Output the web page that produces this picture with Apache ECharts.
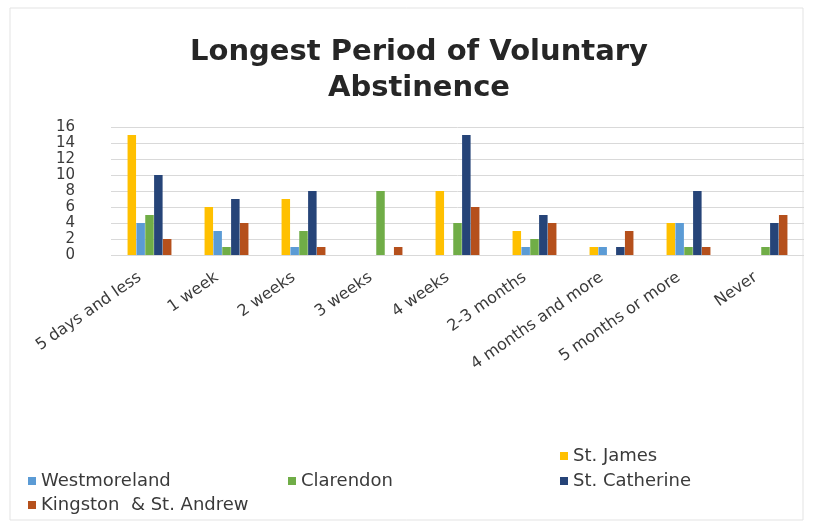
<!DOCTYPE html>
<html>
<head>
<meta charset="utf-8">
<script src="https://cdn.jsdelivr.net/npm/echarts@6/dist/echarts.min.js"></script>
<style>
  html, body { margin: 0; padding: 0; background: #ffffff; }
  #chart { width: 814px; height: 526px; }
</style>
</head>
<body>
<div id="chart"></div>
<script>
// categories on the x axis
var periods = ["5 days and less", "1 week", "2 weeks", "3 weeks", "4 weeks",
  "2-3 months", "4 months and more", "5 months or more", "Never"];

// one array per parish
var stJames      = [15, 6, 7, 0, 8, 3, 1, 4, 0];
var westmoreland = [4, 3, 1, 0, 0, 1, 1, 4, 0];
var clarendon    = [5, 1, 3, 8, 4, 2, 0, 1, 1];
var stCatherine  = [10, 7, 8, 0, 15, 5, 1, 8, 4];
var kingston     = [2, 4, 1, 1, 6, 4, 3, 1, 5];

var seriesNames = ["St. James", "Westmoreland", "Clarendon", "St. Catherine", "Kingston  & St. Andrew"];
var seriesData = [stJames, westmoreland, clarendon, stCatherine, kingston];
var colors = ["#FFC000", "#5B9BD5", "#70AD47", "#264478", "#B5501C"];

var yTicks = [0, 2, 4, 6, 8, 10, 12, 14, 16];

var chart = echarts.init(document.getElementById("chart"));

// the legend is laid out like the original: one entry per spot
var legendSpots = [
  {left: 555, top: 442},
  {left: 23, top: 467},
  {left: 283, top: 467},
  {left: 555, top: 467},
  {left: 23, top: 491}
];
var legends = seriesNames.map(function (name, i) {
  return {
    data: [name],
    left: legendSpots[i].left,
    top: legendSpots[i].top,
    icon: "rect",
    itemWidth: 8,
    itemHeight: 8,
    itemGap: 6,
    textStyle: {
      color: "#3a3a3a",
      fontSize: 18,
      fontFamily: "DejaVu Sans"
    }
  };
});

chart.setOption({
  animation: false,
  title: {
    text: "Longest Period of Voluntary\nAbstinence",
    left: 414,
    textAlign: "center",
    top: 29,
    textStyle: {
      color: "#262626",
      fontSize: 29,
      fontWeight: "bold",
      fontFamily: "DejaVu Sans",
      lineHeight: 36
    }
  },
  legend: legends,
  grid: {
    left: 111,
    right: 10,
    top: 127,
    height: 128
  },
  xAxis: {
    type: "category",
    data: periods,
    axisLine: { show: false },
    axisTick: { show: false },
    axisLabel: {
      rotate: 35,
      interval: 0,
      margin: 14,
      padding: [0, 12, 0, 0],
      color: "#3a3a3a",
      fontSize: 16,
      fontFamily: "DejaVu Sans"
    }
  },
  yAxis: {
    type: "value",
    min: yTicks[0],
    max: yTicks[yTicks.length - 1],
    interval: 2,
    axisLine: { show: false },
    axisTick: { show: false },
    axisLabel: {
      margin: 36,
      color: "#3a3a3a",
      fontSize: 15,
      fontFamily: "DejaVu Sans"
    },
    splitLine: {
      lineStyle: { color: "#d9d9d9", width: 1 }
    }
  },
  series: seriesData.map(function (vals, i) {
    return {
      name: seriesNames[i],
      type: "bar",
      data: vals,
      barGap: "4%",
      barCategoryGap: "43%",
      itemStyle: { color: colors[i] }
    };
  }),
  graphic: [
    {
      type: "rect",
      shape: { x: 10, y: 8, width: 793, height: 512 },
      style: { fill: "none", stroke: "#e3e3e3", lineWidth: 1 },
      silent: true
    }
  ]
});
</script>
</body>
</html>
